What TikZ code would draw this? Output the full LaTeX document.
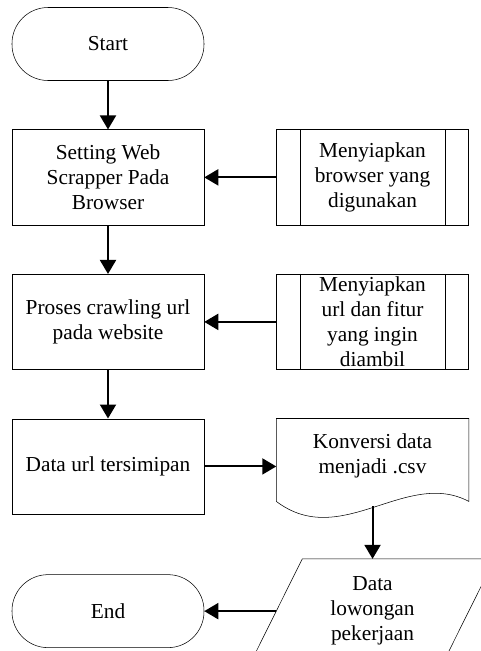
\documentclass[tikz,border=0pt]{standalone}
\usepackage{fontspec}
\setmainfont{Liberation Serif}
\usetikzlibrary{arrows.meta,positioning,calc}

\begin{document}
\begin{tikzpicture}[x=0.75pt,y=-0.75pt,
		font=\fontsize{16}{18.8}\selectfont,
		term/.style={draw,rounded corners=27pt,minimum width=144pt,minimum height=54.75pt,align=center},
		proc/.style={draw,minimum width=144pt,minimum height=71.5pt,align=center},
		subproc/.style={proc,inner sep=0pt},
		plain/.style={align=center},
		conn/.style={line width=1.5pt,-{Triangle[length=10.5pt,width=12pt]}},
		node distance=36.5pt and 54pt]
		\useasboundingbox (0,0) rectangle (480,651);

		\node[term] (start) at (108,44) {Start};
		\node[proc, below=of start] (setting) {Setting Web\\Scrapper Pada\\Browser};
		\node[proc, below=of setting] (crawl) {Proses crawling url\\pada website};
		\node[proc, below=of crawl] (simpan) {Data url tersimipan};
		\node[term, below=45pt of simpan] (finish) {End};
		\node[subproc, right=of setting] (browser) {Menyiapkan\\browser yang\\digunakan};
		\node[subproc, right=of crawl] (fitur) {Menyiapkan\\url dan fitur\\yang ingin\\diambil};
		\node[proc, draw=none, right=of simpan] (doc) {};
		\node[plain] (doctext) at ([yshift=8pt]doc.center) {Konversi data\\menjadi .csv};
		\node[plain, minimum width=144pt, minimum height=78pt] (output) at (doc |- finish) {Data\\lowongan\\pekerjaan};

		% garis samping sub proses
		\foreach \n in {browser,fitur}{
			\draw ([xshift=18pt]\n.north west) -- ([xshift=18pt]\n.south west)
				([xshift=-18pt]\n.north east) -- ([xshift=-18pt]\n.south east);
		}
		% dokumen
		\draw (doc.north west) -- (doc.north east) -- ([yshift=9.75pt]doc.south east)
			.. controls ($(doc.south)+(33.5,-46)$) and ($(doc.south)+(-31.5,36)$) .. ([yshift=9.75pt]doc.south west) -- cycle;
		% input/output
		\draw ([xshift=19.5pt]output.north west) -- ([xshift=19.5pt]output.north east)
			-- ([xshift=-19.5pt]output.south east) -- ([xshift=-19.5pt]output.south west) -- cycle;

		\draw[conn] (start) -- (setting);
		\draw[conn] (setting) -- (crawl);
		\draw[conn] (crawl) -- (simpan);
		\draw[conn] (browser) -- (setting);
		\draw[conn] (fitur) -- (crawl);
		\draw[conn] (simpan) -- (doc);
		\draw[conn] ([yshift=6pt]doc.south) -- (output.north);
		\draw[conn] (output) -- (finish);
	\end{tikzpicture}
\end{document}
